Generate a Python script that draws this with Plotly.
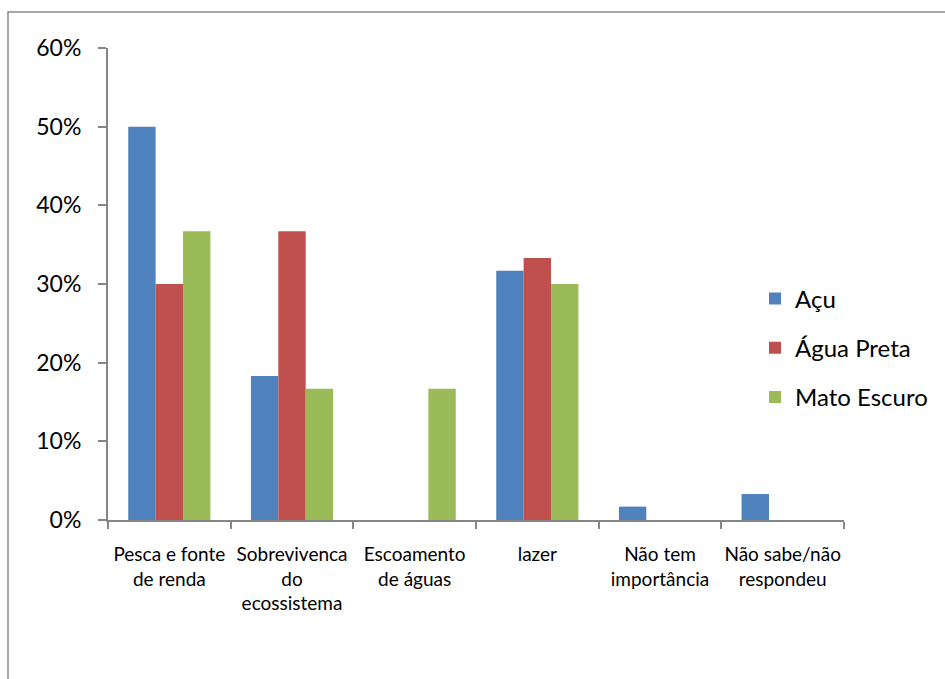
import plotly.graph_objects as go

categories = ["Pesca e fonte<br>de renda", "Sobrevivenca<br>do<br>ecossistema",
              "Escoamento<br>de águas", "lazer", "Não tem<br>importância",
              "Não sabe/não<br>respondeu"]
acu = [50.0, 18.3, 0.0, 31.7, 1.7, 3.3]
agua_preta = [30.0, 36.7, 0.0, 33.3, 0.0, 0.0]
mato_escuro = [36.7, 16.7, 16.7, 30.0, 0.0, 0.0]
series_names = ["Açu", "Água Preta", "Mato Escuro"]
colors = ["#4F81BD", "#C0504D", "#9BBB59"]

W, H = 945, 679
L, R, T, B = 108, 844, 48, 520

fig = go.Figure()
for i, (name, vals) in enumerate(zip(series_names, [acu, agua_preta, mato_escuro])):
    fig.add_trace(go.Bar(x=categories, y=vals, name=name, marker_color=colors[i],
                         marker_line_width=0, legendgroup=name))

def px2x(p):
    return (p - L) / (R - L)

def px2y(p):
    return (B - p) / (B - T)

axis_color = "#868686"
fig.update_layout(
    width=W, height=H,
    margin=dict(l=L, r=W - R, t=T, b=H - B, pad=0),
    paper_bgcolor="white", plot_bgcolor="white",
    font=dict(family="Lato", color="black"),
    barmode="group", bargap=0.33, bargroupgap=0,
    showlegend=True,
    legend=dict(x=px2x(755), y=px2y(348), xanchor="left", yanchor="middle",
                font=dict(size=24, color="black"), traceorder="grouped",
                tracegroupgap=15, bgcolor="rgba(0,0,0,0)"),
    xaxis=dict(showline=True, linecolor=axis_color, linewidth=2,
               ticks="outside", ticklen=7, tickcolor=axis_color, tickwidth=2,
               tickson="boundaries", tickfont=dict(size=19, color="black"),
               tickangle=0, showgrid=False, zeroline=False, ticklabelstandoff=16),
    yaxis=dict(range=[0, 60], dtick=10, ticksuffix="%", showline=True,
               linecolor=axis_color, linewidth=2, ticks="outside", ticklen=8,
               tickcolor=axis_color, tickwidth=2, showgrid=False, zeroline=False,
               tickfont=dict(size=23, color="black"), ticklabelstandoff=12),
    shapes=[dict(type="rect", xref="paper", yref="paper",
                 x0=px2x(8), x1=px2x(960), y0=px2y(700), y1=px2y(12),
                 line=dict(color="#8a8a8a", width=1.5), fillcolor="rgba(0,0,0,0)",
                 layer="below")],
)

fig.write_html("out.html")
